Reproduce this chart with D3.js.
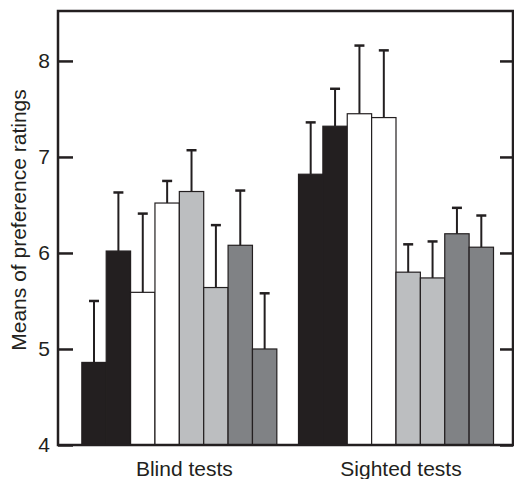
<!DOCTYPE html>
<html>
<head>
<meta charset="utf-8">
<script src="https://cdn.jsdelivr.net/npm/d3@7"></script>
<style>
  body { margin: 0; background: #fff; }
  text { font-family: "Liberation Sans", Arial, sans-serif; fill: #231f20; }
</style>
</head>
<body>
<div id="chart"></div>
<script>
// Data
const groups = ["Blind tests", "Sighted tests"];
const conditions = ["c1", "c2", "c3", "c4", "c5", "c6", "c7", "c8"];
const blindMeans = [4.86, 6.02, 5.59, 6.52, 6.64, 5.64, 6.08, 5.00];
const blindErrors = [0.64, 0.61, 0.82, 0.23, 0.43, 0.65, 0.57, 0.58];
const sightedMeans = [6.82, 7.32, 7.45, 7.41, 5.80, 5.74, 6.20, 6.06];
const sightedErrors = [0.54, 0.39, 0.71, 0.70, 0.29, 0.38, 0.27, 0.33];
const yTicks = [4, 5, 6, 7, 8];

const palette = ["#231f20", "#231f20", "#ffffff", "#ffffff", "#bcbec0", "#bcbec0", "#808285", "#808285"];
const ink = "#231f20";

const width = 514, height = 479;
const margin = { top: 11, right: 1, bottom: 34, left: 58 };

const rows = [
    { group: groups[0], means: blindMeans, errors: blindErrors },
    { group: groups[1], means: sightedMeans, errors: sightedErrors }
];

const svg = d3.select("#chart")
    .append("svg")
    .attr("width", width)
    .attr("height", height);

// Scales
const x0 = d3.scaleBand()
    .domain(groups)
    .range([margin.left, width - margin.right])
    .paddingInner(0.1)
    .paddingOuter(0.1)
    .align(0.55);

const x1 = d3.scaleBand()
    .domain(conditions)
    .range([0, x0.bandwidth()]);

const y = d3.scaleLinear()
    .domain([4, 8.52])
    .range([height - margin.bottom, margin.top]);

const color = d3.scaleOrdinal().domain(conditions).range(palette);

// Bars
const groupG = svg.selectAll(".group")
    .data(rows)
    .enter()
    .append("g")
    .attr("class", "group")
    .attr("transform", d => `translate(${x0(d.group)},0)`);

groupG.selectAll("rect")
    .data(d => d.means.map((m, i) => ({ cond: conditions[i], mean: m, err: d.errors[i] })))
    .enter()
    .append("rect")
    .attr("x", d => x1(d.cond))
    .attr("y", d => y(d.mean))
    .attr("width", x1.bandwidth())
    .attr("height", d => y(4) - y(d.mean))
    .style("fill", d => color(d.cond))
    .style("stroke", ink)
    .style("stroke-width", 1.2);

// Error bars (upper only)
const capW = 10;
const eb = groupG.selectAll(".err")
    .data(d => d.means.map((m, i) => ({ cond: conditions[i], mean: m, err: d.errors[i] })))
    .enter()
    .append("g")
    .attr("class", "err");

eb.append("line")
    .attr("x1", d => x1(d.cond) + x1.bandwidth() / 2)
    .attr("x2", d => x1(d.cond) + x1.bandwidth() / 2)
    .attr("y1", d => y(d.mean))
    .attr("y2", d => y(d.mean + d.err))
    .style("stroke", ink)
    .style("stroke-width", 2);

eb.append("line")
    .attr("x1", d => x1(d.cond) + x1.bandwidth() / 2 - capW / 2)
    .attr("x2", d => x1(d.cond) + x1.bandwidth() / 2 + capW / 2)
    .attr("y1", d => y(d.mean + d.err))
    .attr("y2", d => y(d.mean + d.err))
    .style("stroke", ink)
    .style("stroke-width", 2.5);

// Frame
const [xl, xr] = x0.range();
svg.append("rect")
    .attr("x", xl)
    .attr("y", y.range()[1])
    .attr("width", xr - xl)
    .attr("height", y.range()[0] - y.range()[1])
    .style("fill", "none")
    .style("stroke", ink)
    .style("stroke-width", 2.5);

// Axes (ticks point inward)
const left = svg.append("g")
    .attr("transform", `translate(${xl},0)`)
    .call(d3.axisLeft(y).tickValues(yTicks).tickFormat(d3.format("d"))
        .tickSizeInner(-15).tickSizeOuter(0).tickPadding(8));
left.select(".domain").remove();
left.selectAll(".tick line").style("stroke", ink).style("stroke-width", 2.5);
left.selectAll(".tick text")
    .style("font-size", "21px")
    .style("font-family", "'Liberation Sans', Arial, sans-serif")
    .style("fill", ink);

const right = svg.append("g")
    .attr("transform", `translate(${xr},0)`)
    .call(d3.axisRight(y).tickValues(yTicks).tickSizeInner(-13).tickSizeOuter(0).tickFormat(""));
right.select(".domain").remove();
right.selectAll(".tick line").style("stroke", ink).style("stroke-width", 2.5);

// Group labels
svg.selectAll(".glabel")
    .data(groups)
    .enter()
    .append("text")
    .attr("class", "glabel")
    .attr("x", d => x0(d) + x0.bandwidth() / 2 + 5)
    .attr("y", 476)
    .attr("text-anchor", "middle")
    .style("font-size", "21px")
    .text(d => d);

// Y axis title
svg.append("text")
    .attr("transform", `translate(26,220) rotate(-90)`)
    .attr("text-anchor", "middle")
    .style("font-size", "21px")
    .text("Means of preference ratings");
</script>
</body>
</html>
